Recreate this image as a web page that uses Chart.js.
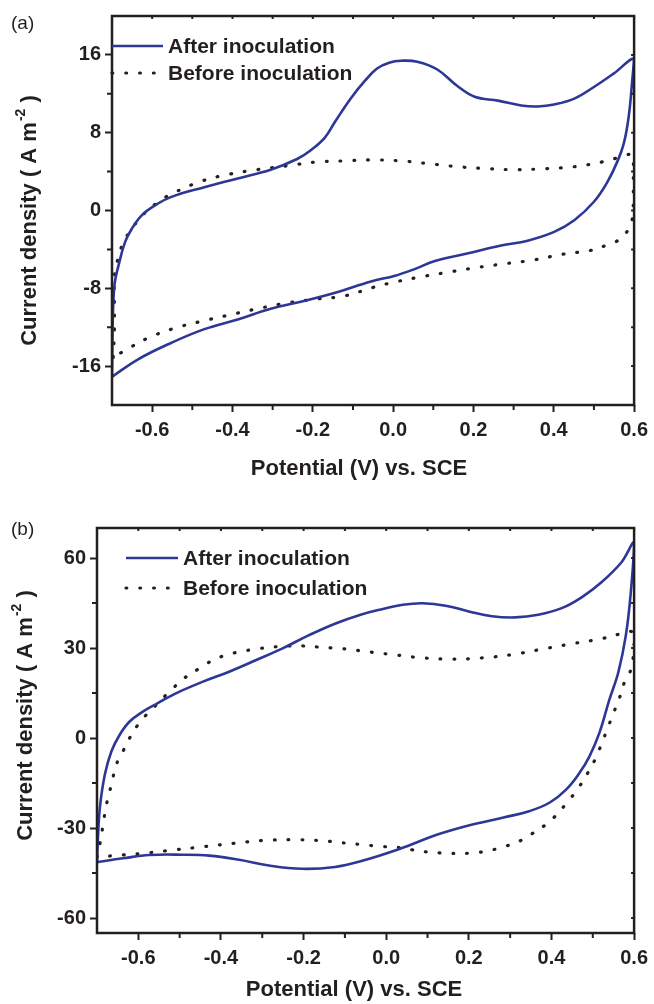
<!DOCTYPE html>
<html>
<head>
<meta charset="utf-8">
<script src="https://cdn.jsdelivr.net/npm/chart.js@4.4.1/dist/chart.umd.min.js"></script>
<style>
  html, body { margin: 0; padding: 0; background: #fff; }
  #wrap { position: relative; width: 654px; height: 1004px; }
  .panel { position: absolute; left: 0; width: 654px; height: 502px; }
</style>
</head>
<body>
<div id="wrap">
  <div class="panel" style="top:0"><canvas id="chartA" width="654" height="502"></canvas></div>
  <div class="panel" style="top:502px"><canvas id="chartB" width="654" height="502"></canvas></div>
</div>
<script>
// ---- data ----
const seriesLabels = ['After inoculation', 'Before inoculation'];
const xTicks = [-0.6, -0.4, -0.2, 0.0, 0.2, 0.4, 0.6];
const xMinor = [-0.5, -0.3, -0.1, 0.1, 0.3, 0.5];

// panel (a)
const yTicksA = [-16, -8, 0, 8, 16];
const yMinorA = [-12, -4, 4, 12];
const afterA_V = [-0.700, -0.699, -0.697, -0.693, -0.684, -0.668, -0.651, -0.626, -0.594, -0.552, -0.470, -0.387, -0.305, -0.239, -0.205, -0.170, -0.145, -0.106, -0.069, -0.040, -0.010, 0.020, 0.060, 0.110, 0.160, 0.203, 0.261, 0.319, 0.360, 0.401, 0.451, 0.500, 0.550, 0.600,
  0.595, 0.587, 0.575, 0.558, 0.533, 0.500, 0.451, 0.401, 0.335, 0.269, 0.187, 0.104, 0.055, 0.005, -0.055, -0.140, -0.222, -0.305, -0.387, -0.470, -0.552, -0.635, -0.700];
const afterA_J = [-17.1, -13.6, -9.8, -7.4, -5.7, -3.3, -1.9, -0.5, 0.5, 1.4, 2.4, 3.3, 4.2, 5.3, 6.2, 7.5, 9.1, 11.5, 13.4, 14.6, 15.2, 15.4, 15.3, 14.5, 12.8, 11.7, 11.3, 10.8, 10.7, 10.9, 11.5, 12.7, 14.1, 15.6,
  13.2, 9.8, 7.0, 5.0, 2.9, 0.9, -1.0, -2.2, -3.1, -3.6, -4.4, -5.2, -6.0, -6.7, -7.3, -8.4, -9.3, -10.1, -11.2, -12.2, -13.6, -15.3, -17.1];
const beforeA_V = [-0.697, -0.694, -0.694, -0.693, -0.684, -0.672, -0.651, -0.622, -0.589, -0.552, -0.478, -0.412, -0.338, -0.263, -0.189, -0.123, -0.057, 0.021, 0.092, 0.162, 0.236, 0.306, 0.377, 0.451, 0.521, 0.558, 0.597,
  0.598, 0.598, 0.597, 0.591, 0.566, 0.529, 0.492, 0.422, 0.348, 0.273, 0.203, 0.129, 0.059, -0.012, -0.049, -0.123, -0.189, -0.263, -0.338, -0.403, -0.478, -0.544, -0.610, -0.664, -0.697];
const beforeA_J = [-15.1, -12.2, -9.3, -6.4, -4.8, -3.3, -1.9, -0.4, 0.75, 1.7, 3.0, 3.7, 4.2, 4.6, 5.0, 5.1, 5.2, 5.1, 4.8, 4.5, 4.3, 4.2, 4.3, 4.5, 5.0, 5.4, 5.7,
  4.0, 1.4, 0.0, -1.5, -2.9, -3.6, -4.1, -4.5, -5.1, -5.5, -5.9, -6.4, -6.9, -7.5, -7.9, -8.8, -9.1, -9.5, -10.1, -10.7, -11.4, -12.1, -13.1, -14.3, -15.1];

// panel (b)
const yTicksB = [-60, -30, 0, 30, 60];
const yMinorB = [-45, -15, 15, 45];
const afterB_V = [-0.700, -0.698, -0.693, -0.681, -0.665, -0.645, -0.621, -0.589, -0.557, -0.509, -0.445, -0.380, -0.316, -0.252, -0.188, -0.124, -0.062, -0.008, 0.040, 0.088, 0.144, 0.200, 0.256, 0.312, 0.368, 0.425, 0.473, 0.521, 0.569, 0.600,
  0.592, 0.580, 0.562, 0.540, 0.516, 0.492, 0.468, 0.436, 0.396, 0.348, 0.284, 0.204, 0.124, 0.032, -0.062, -0.124, -0.204, -0.284, -0.356, -0.428, -0.493, -0.573, -0.637, -0.700];
const afterB_J = [-41.4, -34.2, -23.2, -12.2, -4.4, 1.1, 5.5, 8.8, 11.3, 14.9, 18.7, 22.1, 25.9, 29.8, 34.2, 38.1, 41.1, 43.0, 44.4, 44.9, 44.1, 42.2, 40.6, 40.2, 41.1, 43.3, 46.9, 51.9, 58.5, 65.0,
  48.5, 34.2, 22.0, 12.7, 1.7, -6.1, -11.6, -17.1, -21.5, -24.3, -26.5, -29.0, -32.2, -37.0, -41.1, -43.0, -43.6, -42.5, -40.6, -39.2, -38.9, -39.0, -40.1, -41.4];
const beforeB_V = [-0.700, -0.693, -0.685, -0.677, -0.665, -0.653, -0.637, -0.621, -0.601, -0.581, -0.557, -0.525, -0.489, -0.452, -0.420, -0.384, -0.348, -0.308, -0.276, -0.236, -0.204, -0.164, -0.132, -0.092, -0.054, 0.016, 0.088, 0.160, 0.233, 0.305, 0.377, 0.449, 0.521, 0.569, 0.593, 0.600,
  0.593, 0.577, 0.563, 0.550, 0.536, 0.522, 0.506, 0.488, 0.464, 0.436, 0.408, 0.388, 0.352, 0.316, 0.280, 0.244, 0.208, 0.172, 0.132, 0.100, 0.064, 0.024, -0.008, -0.054, -0.116, -0.156, -0.228, -0.300, -0.368, -0.440, -0.513, -0.585, -0.657, -0.700];
const beforeB_J = [-39.7, -35.3, -28.7, -22.1, -15.5, -8.8, -4.4, 0.0, 4.4, 7.7, 11.0, 15.4, 19.9, 23.2, 25.9, 27.8, 28.9, 29.8, 30.3, 30.7, 30.7, 30.3, 30.0, 29.6, 28.9, 27.8, 26.7, 26.3, 26.7, 27.8, 29.6, 31.4, 33.1, 34.8, 35.5, 33.1,
  23.2, 18.7, 12.7, 8.3, 3.3, -1.7, -7.0, -11.6, -16.9, -21.8, -26.2, -28.7, -32.0, -34.8, -36.4, -37.7, -38.3, -38.5, -38.3, -38.0, -37.3, -36.4, -36.2, -35.6, -34.8, -34.2, -33.9, -34.2, -35.1, -36.2, -37.3, -38.4, -39.2, -39.7];

// ---- styling ----
const BLUE = '#2c3796';
const DARK = '#231f20';
const FONT = '"Liberation Sans", Arial, Helvetica, sans-serif';
const DOTS = [0.8, 13];

Chart.defaults.font.family = FONT;
Chart.defaults.color = DARK;

const zip = (xs, ys) => xs.map((x, i) => ({ x: x, y: ys[i] }));

// frame, minor ticks, legend, axis titles and the panel letter
const decor = {
  id: 'decor',
  afterDatasetsDraw(chart, args, o) {
    const ctx = chart.ctx;
    const a = chart.chartArea;
    const sx = chart.scales.x, sy = chart.scales.y;
    ctx.save();
    ctx.strokeStyle = DARK;
    ctx.lineWidth = 2.5;
    ctx.strokeRect(a.left, a.top, a.right - a.left, a.bottom - a.top);

    ctx.lineWidth = 2;
    ctx.beginPath();
    xMinor.forEach(v => {
      const px = sx.getPixelForValue(v);
      ctx.moveTo(px, a.bottom); ctx.lineTo(px, a.bottom + 5);
    });
    o.yMinor.forEach(v => {
      const py = sy.getPixelForValue(v);
      ctx.moveTo(a.left, py); ctx.lineTo(a.left - 5, py);
    });
    // small inward ticks on top and right
    xTicks.concat(xMinor).forEach(v => {
      const px = sx.getPixelForValue(v);
      ctx.moveTo(px, a.top); ctx.lineTo(px, a.top + 3);
    });
    o.yTicks.concat(o.yMinor).forEach(v => {
      const py = sy.getPixelForValue(v);
      ctx.moveTo(a.right, py); ctx.lineTo(a.right - 3, py);
    });
    ctx.stroke();

    // legend
    const ds = chart.data.datasets;
    ctx.font = 'bold 21px ' + FONT;
    ctx.textBaseline = 'middle';
    ctx.textAlign = 'left';
    ds.forEach((d, i) => {
      const y = o.legend.y[i];
      ctx.beginPath();
      ctx.strokeStyle = d.borderColor;
      ctx.lineWidth = d.borderWidth;
      ctx.lineCap = d.borderDash ? 'round' : 'butt';
      ctx.setLineDash(d.borderDash || []);
      ctx.moveTo(o.legend.x0, y); ctx.lineTo(o.legend.x1, y);
      ctx.stroke();
      ctx.setLineDash([]);
      ctx.fillStyle = DARK;
      ctx.fillText(d.label, o.legend.tx, y + 1);
    });

    // x title
    ctx.font = 'bold 22px ' + FONT;
    ctx.textAlign = 'center';
    ctx.fillText('Potential (V) vs. SCE', o.xTitle[0], o.xTitle[1]);

    // y title with superscript
    const main = 'Current density ( A m', sup = '-2', tail = ' )';
    ctx.font = 'bold 22px ' + FONT;
    const w1 = ctx.measureText(main).width, w3 = ctx.measureText(tail).width;
    ctx.font = 'bold 14px ' + FONT;
    const w2 = ctx.measureText(sup).width;
    ctx.translate(o.yTitle[0], o.yTitle[1]);
    ctx.rotate(-Math.PI / 2);
    let x = -(w1 + w2 + w3) / 2;
    ctx.textAlign = 'left';
    ctx.font = 'bold 22px ' + FONT;
    ctx.fillText(main, x, 0);
    ctx.font = 'bold 14px ' + FONT;
    ctx.fillText(sup, x + w1 + 1, -9);
    ctx.font = 'bold 22px ' + FONT;
    ctx.fillText(tail, x + w1 + w2 + 1, 0);
    ctx.restore();

    // panel letter
    ctx.save();
    ctx.font = '19px ' + FONT;
    ctx.fillStyle = DARK;
    ctx.textBaseline = 'middle';
    ctx.fillText(o.tag, o.tagPos[0], o.tagPos[1]);
    ctx.restore();
  }
};

function makeChart(id, p) {
  return new Chart(document.getElementById(id), {
    type: 'scatter',
    data: {
      datasets: [
        {
          label: seriesLabels[0],
          data: zip(p.afterV, p.afterJ),
          showLine: true,
          borderColor: BLUE,
          borderWidth: 2.6,
          pointRadius: 0,
          tension: 0.4,
          fill: false,
        },
        {
          label: seriesLabels[1],
          data: zip(p.beforeV, p.beforeJ),
          showLine: true,
          borderColor: DARK,
          borderWidth: 3.2,
          borderDash: DOTS,
          borderCapStyle: 'round',
          pointRadius: 0,
          tension: 0.4,
          fill: false,
        }
      ]
    },
    options: {
      responsive: false,
      animation: false,
      devicePixelRatio: 1,
      layout: { padding: { left: 0, top: p.top, right: p.right, bottom: 0 } },
      plugins: {
        legend: { display: false },
        tooltip: { enabled: false },
        decor: p.decor,
      },
      scales: {
        x: {
          type: 'linear',
          min: -0.7,
          max: 0.6,
          afterBuildTicks: s => { s.ticks = xTicks.map(v => ({ value: v })); },
          afterFit: s => { s.height = p.xHeight; },
          ticks: {
            autoSkip: false,
            maxRotation: 0,
            padding: 6,
            color: DARK,
            font: { size: 20, weight: 'bold' },
            callback: v => v.toFixed(1),
          },
          grid: { drawOnChartArea: false, drawTicks: true, tickLength: 7, tickWidth: 2, tickColor: DARK },
          border: { display: false },
        },
        y: {
          type: 'linear',
          min: p.yMin,
          max: p.yMax,
          afterBuildTicks: s => { s.ticks = p.yTicks.map(v => ({ value: v })); },
          afterFit: s => { s.width = p.yWidth; },
          ticks: {
            padding: 4,
            color: DARK,
            font: { size: 20, weight: 'bold' },
            callback: v => String(v),
          },
          grid: { drawOnChartArea: false, drawTicks: true, tickLength: 7, tickWidth: 2, tickColor: DARK },
          border: { display: false },
        }
      }
    },
    plugins: [decor]
  });
}

makeChart('chartA', {
  afterV: afterA_V, afterJ: afterA_J, beforeV: beforeA_V, beforeJ: beforeA_J,
  yMin: -20, yMax: 20, yTicks: yTicksA,
  top: 16, right: 17, xHeight: 97, yWidth: 112,
  decor: {
    yTicks: yTicksA, yMinor: yMinorA,
    legend: { x0: 112, x1: 163, tx: 168, y: [46, 73] },
    xTitle: [359, 469], yTitle: [30, 221],
    tag: '(a)', tagPos: [11, 24],
  }
});

makeChart('chartB', {
  afterV: afterB_V, afterJ: afterB_J, beforeV: beforeB_V, beforeJ: beforeB_J,
  yMin: -65, yMax: 70, yTicks: yTicksB,
  top: 26, right: 16, xHeight: 71, yWidth: 97,
  decor: {
    yTicks: yTicksB, yMinor: yMinorB,
    legend: { x0: 126, x1: 178, tx: 183, y: [56, 86] },
    xTitle: [354, 488], yTitle: [26, 214],
    tag: '(b)', tagPos: [11, 28],
  }
});
</script>
</body>
</html>
